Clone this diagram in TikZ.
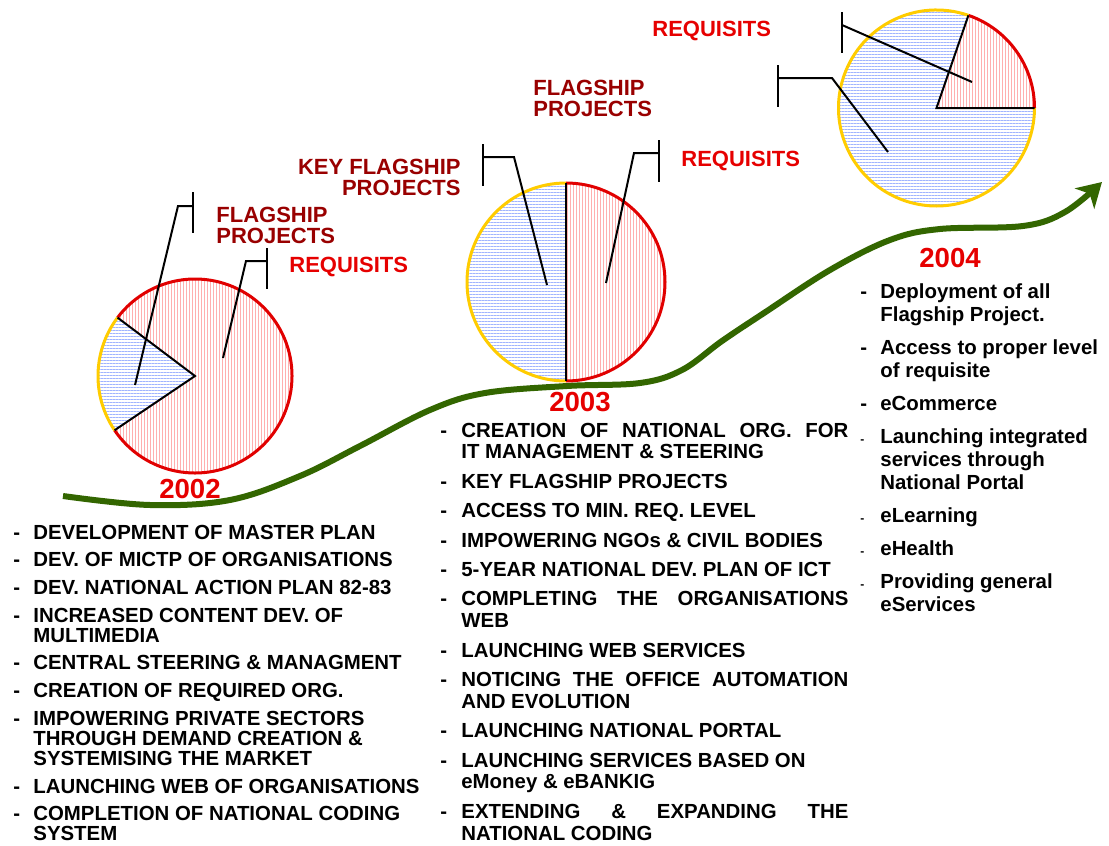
\documentclass[tikz,border=0pt]{standalone}
\usepackage{fontspec}
\setmainfont{Liberation Sans}
\usepackage{array}
\usetikzlibrary{arrows.meta,patterns.meta}

\definecolor{darkred}{RGB}{153,0,0}
\definecolor{brightred}{RGB}{230,0,0}
\definecolor{rimred}{RGB}{225,0,0}
\definecolor{rimgold}{RGB}{255,204,0}
\definecolor{curvegreen}{RGB}{51,102,0}
\definecolor{stripeblue}{RGB}{160,180,255}
\definecolor{stripepink}{RGB}{255,175,175}

\newcommand{\spread}[1]{\makebox[\linewidth][s]{#1}}
\newcommand{\nextitem}[1]{\\\noalign{\vskip#1}}
\newcommand{\smalldash}{{\fontsize{6}{6}\selectfont -}}

\tikzset{
  bluepart/.style={pattern={Lines[angle=0,distance=1.5pt,line width=0.42pt]},pattern color=stripeblue},
  redpart/.style={pattern={Lines[angle=90,distance=1.5pt,line width=0.45pt]},pattern color=stripepink},
  redrim/.style={draw=rimred,line width=1.5pt},
  goldrim/.style={draw=rimgold,line width=1.5pt},
  cut/.style={draw=black,line width=1pt},
  callout/.style={draw=black,line width=1pt},
  darklbl/.style={text=darkred,font=\fontsize{11}{10.5}\selectfont\bfseries,align=left,inner sep=0pt},
  redlbl/.style={text=brightred,font=\fontsize{11}{10.5}\selectfont\bfseries,inner sep=0pt},
  yearlbl/.style={text=brightred,font=\fontsize{13.8}{14}\selectfont\bfseries,inner sep=0pt},
  listtxt/.style={inner sep=0pt,anchor=base west,font=\fontsize{10.2}{#1}\selectfont\bfseries},
  curve/.style={draw=curvegreen,line width=3pt,-{Stealth[length=12pt,width=14pt,inset=3.5pt]}}
}

\begin{document}
\begin{tikzpicture}[x=0.5pt,y=-0.5pt]
\useasboundingbox (0,0) rectangle (1109,846);

% growth curve
\draw[curve] plot[smooth,tension=0.6] coordinates {(63,496) (150,505) (230,500) (300,476) (360,446) (430,410)
  (485,393) (567,386) (640,383) (682,370) (722,341) (764,313) (830,270) (890,240) (940,229) (1023,226)
  (1065,212) (1102,182)};

% pie 2002
\coordinate (p02) at (195,376);
\fill[redpart] (p02) -- ++(-214:97) arc[start angle=-214,end angle=-503,radius=97] -- cycle;
\fill[bluepart] (p02) -- ++(-143:97) arc[start angle=-143,end angle=-214,radius=97] -- cycle;
\draw[redrim] (p02) ++(-214:97) arc[start angle=-214,end angle=-503,radius=97];
\draw[goldrim] (p02) ++(-143:97) arc[start angle=-143,end angle=-214,radius=97];
\draw[cut] (p02) ++(-143:97) -- (p02) -- ++(-214:97);

% pie 2003
\coordinate (p03) at (566,282);
\fill[redpart] (p03) -- ++(90:99) arc[start angle=90,end angle=-90,radius=99] -- cycle;
\fill[bluepart] (p03) -- ++(-90:99) arc[start angle=-90,end angle=-270,radius=99] -- cycle;
\draw[redrim] (p03) ++(90:99) arc[start angle=90,end angle=-90,radius=99];
\draw[goldrim] (p03) ++(-90:99) arc[start angle=-90,end angle=-270,radius=99];
\draw[cut] (p03) ++(90:99) -- ++(0,-198);

% pie 2004
\coordinate (p04) at (936.5,108);
\fill[redpart] (p04) -- ++(0:98) arc[start angle=0,end angle=-71,radius=98] -- cycle;
\fill[bluepart] (p04) -- ++(-71:98) arc[start angle=-71,end angle=-360,radius=98] -- cycle;
\draw[redrim] (p04) ++(0:98) arc[start angle=0,end angle=-71,radius=98];
\draw[goldrim] (p04) ++(-71:98) arc[start angle=-71,end angle=-360,radius=98];
\draw[cut] (p04) ++(-71:98) -- (p04) -- ++(0:98);

% callouts
\coordinate (fp02) at (135,385);  \coordinate (fp02bar) at (193,206);
\coordinate (rq02) at (223,358);  \coordinate (rq02bar) at (267,261);
\coordinate (kf03) at (547,285);  \coordinate (kf03bar) at (483,157);
\coordinate (rq03) at (606,283);  \coordinate (rq03bar) at (659,153);
\coordinate (rq04) at (972,82);   \coordinate (rq04bar) at (842,25);
\coordinate (fp04) at (888,152);  \coordinate (fp04bar) at (778,78);
\draw[callout] (fp02) -- (178,206) -- (fp02bar);
\draw[callout] (fp02bar) ++(0,-14) -- ++(0,41);
\draw[callout] (rq02) -- (246,261) -- (rq02bar);
\draw[callout] (rq02bar) ++(0,-13) -- ++(0,41);
\draw[callout] (kf03) -- (514,157) -- (kf03bar);
\draw[callout] (kf03bar) ++(0,-13) -- ++(0,42);
\draw[callout] (rq03) -- (634,153) -- (rq03bar);
\draw[callout] (rq03bar) ++(0,-13) -- ++(0,42);
\draw[callout] (rq04) -- (rq04bar);
\draw[callout] (rq04bar) ++(0,-13) -- ++(0,41);
\draw[callout] (fp04) -- (832,78) -- (fp04bar);
\draw[callout] (fp04bar) ++(0,-13) -- ++(0,42);

% labels (base = last line)
\node[darklbl,anchor=base west] (fpl02) at (216,243) {FLAGSHIP\\PROJECTS};
\node[redlbl,anchor=base west] (rql02) at (289,272) {REQUISITS};
\node[darklbl,anchor=base east,align=right] (kfl03) at (461,195) {KEY FLAGSHIP\\PROJECTS};
\node[darklbl,anchor=base west] (fpl04) at (533,116) {FLAGSHIP\\PROJECTS};
\node[redlbl,anchor=base west] (rql03) at (681,166) {REQUISITS};
\node[redlbl,anchor=base west] (rql04) at (652,36) {REQUISITS};

% years
\node[yearlbl,anchor=base] (y02) at (190,498) {2002};
\node[yearlbl,anchor=base] (y03) at (580,411) {2003};
\node[yearlbl,anchor=base] (y04) at (950,267) {2004};

% lists
\node[listtxt=10pt] (list02) at (13,539) {%
\begin{tabular}[t]{@{}p{10pt}@{}>{\raggedright\arraybackslash}p{205pt}@{}}
- & DEVELOPMENT OF MASTER PLAN\nextitem{3.75pt}
- & DEV. OF MICTP OF ORGANISATIONS\nextitem{3.75pt}
- & DEV. NATIONAL ACTION PLAN 82-83\nextitem{3.75pt}
- & INCREASED CONTENT DEV. OF\newline MULTIMEDIA\nextitem{3.75pt}
- & CENTRAL STEERING \& MANAGMENT\nextitem{3.75pt}
- & CREATION OF REQUIRED ORG.\nextitem{3.75pt}
- & IMPOWERING PRIVATE SECTORS\newline THROUGH DEMAND CREATION \&\newline SYSTEMISING THE MARKET\nextitem{3.75pt}
- & LAUNCHING WEB OF ORGANISATIONS\nextitem{3.75pt}
- & COMPLETION OF NATIONAL CODING\newline SYSTEM
\end{tabular}};

\node[listtxt=10.9pt] (list03) at (440,437) {%
\begin{tabular}[t]{@{}p{10.5pt}@{}p{193.5pt}@{}}
- & \spread{CREATION OF NATIONAL ORG. FOR}\newline IT MANAGEMENT \& STEERING\nextitem{3.8pt}
- & KEY FLAGSHIP PROJECTS\nextitem{3.8pt}
- & ACCESS TO MIN. REQ. LEVEL\nextitem{3.8pt}
- & IMPOWERING NGOs \& CIVIL BODIES\nextitem{3.8pt}
- & 5-YEAR NATIONAL DEV. PLAN OF ICT\nextitem{3.8pt}
- & \spread{COMPLETING THE ORGANISATIONS}\newline WEB\nextitem{3.8pt}
- & LAUNCHING WEB SERVICES\nextitem{3.8pt}
- & \spread{NOTICING THE OFFICE AUTOMATION}\newline AND EVOLUTION\nextitem{3.8pt}
- & LAUNCHING NATIONAL PORTAL\nextitem{3.8pt}
- & LAUNCHING SERVICES BASED ON\newline eMoney \& eBANKIG\nextitem{3.8pt}
- & \spread{EXTENDING \& EXPANDING THE}\newline NATIONAL CODING
\end{tabular}};

\node[listtxt=11.5pt] (list04) at (860,298) {%
\begin{tabular}[t]{@{}p{10pt}@{}>{\raggedright\arraybackslash}p{120pt}@{}}
- & Deployment of all\newline Flagship Project.\nextitem{5pt}
- & Access to proper level\newline of requisite\nextitem{5pt}
- & eCommerce\nextitem{5pt}
\smalldash & Launching integrated\newline services through\newline National Portal\nextitem{5pt}
\smalldash & eLearning\nextitem{5pt}
\smalldash & eHealth\nextitem{5pt}
\smalldash & Providing general\newline eServices
\end{tabular}};
\end{tikzpicture}
\end{document}
